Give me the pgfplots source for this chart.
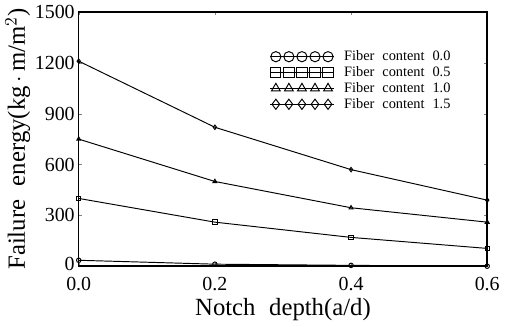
\documentclass[border=0pt]{standalone}
\usepackage{pgfplots}
\pgfplotsset{compat=1.18}
\usepackage{fontspec}
\setmainfont{Liberation Serif}
\newcommand{\ws}{\hspace{0.55em}}
\begin{document}
\begin{tikzpicture}
\begin{axis}[
  scale only axis,
  width=9.0cm, height=5.6cm,
  xmin=0, xmax=0.6, ymin=0, ymax=1500,
  clip=false,
  xtick={0,0.2,0.4,0.6},
  xticklabels={0.0,0.2,0.4,0.6},
  ytick={0,300,600,900,1200,1500},
  yticklabels={\raisebox{2.5pt}{0},300,600,900,1200,1500},
  scaled y ticks=false,
  tick label style={font=\fontsize{12.5}{14}\selectfont},
  yticklabel style={xshift=1pt},
  xticklabel style={yshift=-3.5pt},
  tick align=inside, major tick length=2pt,
  xlabel={Notch\ws depth(a/d)},
  ylabel={Failure\ws energy(kg\,$\cdot$\,m/m$^2$)},
  label style={font=\fontsize{15.5}{17}\selectfont},
  ylabel style={yshift=-4pt},
  xlabel style={yshift=2.5pt},
  axis line style={line width=0.9pt},
  legend style={draw=none, fill=none, at={(0.455,0.875)}, anchor=north west,
    font=\fontsize{9}{10}\selectfont, row sep=-1.8pt,
    /tikz/every odd column/.append style={column sep=0.15cm}},
  legend cell align=left,
  legend image code/.code={
    \draw[black, line width=0.6pt] (0cm,0cm) -- (1.4cm,0cm);
    \draw[#1, mark size=3.2pt, only marks] plot coordinates {(0.125cm,0cm) (0.4125cm,0cm) (0.7cm,0cm) (0.9875cm,0cm) (1.275cm,0cm)};},
  every axis plot/.append style={black, line width=0.6pt, mark size=1.4pt},
]
\addplot[mark=o] coordinates {(0,35) (0.2,12) (0.4,5) (0.6,0)};
\addlegendentry{Fiber\ws content\ws 0.0}
\addplot[mark=square] coordinates {(0,400) (0.2,260) (0.4,170) (0.6,105)};
\addlegendentry{Fiber\ws content\ws 0.5}
\addplot[mark=triangle] coordinates {(0,750) (0.2,500) (0.4,345) (0.6,260)};
\addlegendentry{Fiber\ws content\ws 1.0}
\addplot[mark=diamond] coordinates {(0,1210) (0.2,820) (0.4,570) (0.6,390)};
\addlegendentry{Fiber\ws content\ws 1.5}
\end{axis}
\end{tikzpicture}
\end{document}
